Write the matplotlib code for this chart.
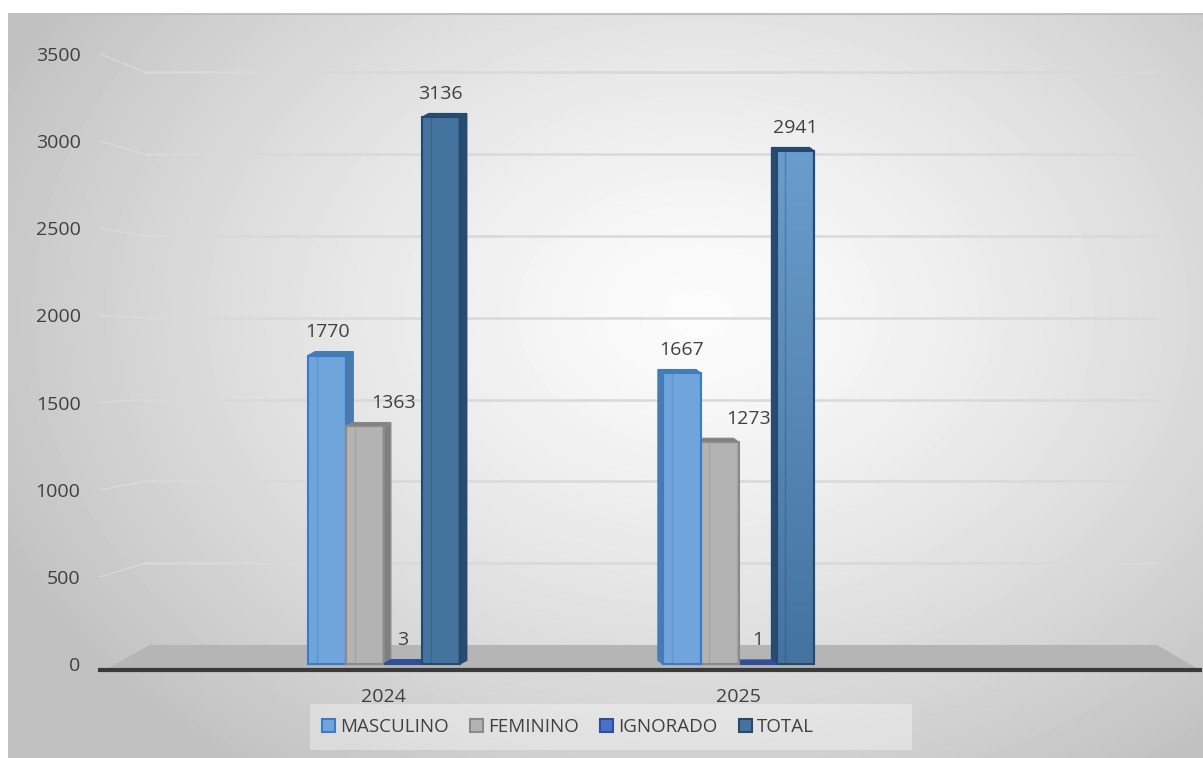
import numpy as np
import matplotlib.pyplot as plt
from matplotlib.patches import Patch, Polygon, Rectangle
import matplotlib.transforms as mtransforms
from matplotlib.colors import LinearSegmentedColormap

plt.rcParams['font.family'] = ['Open Sans', 'DejaVu Sans']

# data
years = ['2024', '2025']
series = ['MASCULINO', 'FEMININO', 'IGNORADO', 'TOTAL']
masculino = [1770, 1667]
feminino = [1363, 1273]
ignorado = [3, 1]
total = [3136, 2941]
values = [masculino, feminino, ignorado, total]

front_cols = ['#6fa5db', '#b3b3b3', '#4a72c4', '#44739f']
edge_cols = ['#3d7cc4', '#8a8a8a', '#2f4f9a', '#244a70']
side_cols = ['#4d7aa8', '#7f7f7f', '#2f4f9a', '#2a4c70']

W, H = 1203, 758
fig = plt.figure(figsize=(W / 100, H / 100), dpi=100)

# radial grey background
bg = fig.add_axes([8 / W, 0, 1 - 8 / W, 1 - 13 / H], zorder=-10)
yy, xx = np.mgrid[0:745, 0:1195]
d = np.sqrt(((xx - 690) / 760) ** 2 + ((yy - 300) / 560) ** 2)
shade = 252 - 58 * np.clip(d, 0, 1) ** 1.3
bg.imshow(shade, cmap='gray', vmin=0, vmax=255, aspect='auto', interpolation='bilinear')
bg.axhline(0, color='#c0c0c0', lw=1.5)
bg.axis('off')

ax = fig.add_axes([100 / W, 88 / H, 1100 / W, 650 / H])
ax.set_facecolor('none')
ax.set_xlim(-0.8, 2.3)
ax.set_ylim(-34, 3695)

ticks = np.arange(0, 3501, 500)
ax.set_yticks(ticks)
ax.set_yticklabels([str(t) for t in ticks])

# back wall gridlines (3D look)
for t in ticks[1:]:
    yb = 0.939 * t + 109
    ax.plot([0.0, 0.041], [t, yb], transform=ax.get_yaxis_transform(),
            color='#dedede', lw=1.0, alpha=0.7, zorder=0, clip_on=False)
    ax.plot([0.041, 0.961], [yb, yb], transform=ax.get_yaxis_transform(),
            color='#d9d9d9', lw=1.8, zorder=0)

# floor
floor = Polygon([[0.005, 0], [1.0, 0], [0.961, 0.0385], [0.045, 0.0385]],
                closed=True, transform=ax.transAxes, facecolor='#b5b5b5',
                edgecolor='none', zorder=1)
ax.add_patch(floor)

x = np.arange(len(years))
width = 0.107
offsets = [-0.16, -0.054, 0.054, 0.16]
depth_dx = [0.02, -0.014]   # side face visible right for 2024, left for 2025
depth_dy = 22
total_2025_grad = LinearSegmentedColormap.from_list('tg', ['#44739f', '#6a9dcd'])

for i, vals in enumerate(values):
    for j, v in enumerate(vals):
        xc = x[j] + offsets[i]
        xl, xr = xc - width / 2, xc + width / 2
        dx = depth_dx[j]
        z = 3 + i if j == 0 else 10 - i
        edge_x = xr if dx > 0 else xl
        side = Polygon([[edge_x, 0], [edge_x, v], [edge_x + dx, v + depth_dy],
                        [edge_x + dx, depth_dy]], closed=True,
                       facecolor=side_cols[i], edgecolor=edge_cols[i], lw=1, zorder=z)
        top = Polygon([[xl, v], [xr, v], [xr + dx, v + depth_dy], [xl + dx, v + depth_dy]],
                      closed=True, facecolor=side_cols[i], edgecolor=edge_cols[i],
                      lw=1, zorder=z)
        ax.add_patch(side)
        ax.add_patch(top)
        bars = ax.bar(xc, v, width, color=front_cols[i], edgecolor=edge_cols[i],
                      linewidth=1.5, zorder=z + 0.5)
        if i == 3 and j == 1:
            grad = np.linspace(0, 1, 256).reshape(-1, 1)
            im = ax.imshow(grad, cmap=total_2025_grad, origin='lower', aspect='auto',
                           extent=[xl, xr, 0, v], zorder=z + 0.55)
            im.set_clip_path(bars[0])
            ax.bar(xc, v, width, color='none', edgecolor=edge_cols[i],
                   linewidth=1.5, zorder=z + 0.6)
        # bevel lines inside the front face
        if v > 200:
            ax.plot([xl + 0.025, xl + 0.025], [0, v], color=edge_cols[i], alpha=0.35,
                    lw=1, zorder=z + 0.7)
            ax.plot([xr - 0.004, xr - 0.004], [0, v], color=edge_cols[i], alpha=0.35,
                    lw=1, zorder=z + 0.7)
        lab_dx = 21 if i == 1 else 0
        ax.annotate(str(v), (xc, v), xytext=(lab_dx, 17), textcoords='offset points',
                    ha='center', va='center', fontsize=14, color='#404040', zorder=20)

ax.set_xlim(-0.8, 2.3)
ax.set_ylim(-34, 3695)
ax.set_xticks(x)
ax.set_xticklabels(years)
for lab in ax.get_xticklabels():
    lab.set_transform(lab.get_transform() +
                      mtransforms.ScaledTranslation(-11 / 100, 0, fig.dpi_scale_trans))

ax.tick_params(axis='y', length=0, pad=14, labelsize=14, labelcolor='#404040')
ax.tick_params(axis='x', length=0, pad=13, labelsize=14, labelcolor='#404040')
for s in ['top', 'right', 'left']:
    ax.spines[s].set_visible(False)
ax.spines['bottom'].set_color('#3a3a3a')
ax.spines['bottom'].set_linewidth(3)
ax.spines['bottom'].set_zorder(2)

# legend box (wider than its content, as in the original)
fig.patches.append(Rectangle((310 / W, 1 - 750 / H), 602 / W, 46 / H,
                             transform=fig.transFigure, facecolor='white',
                             alpha=0.35, edgecolor='none', zorder=0))
handles = [Patch(facecolor=front_cols[i], edgecolor=edge_cols[i], lw=1.5)
           for i in range(len(series))]
leg = fig.legend(handles, series, loc='center', bbox_to_anchor=(568 / W, 1 - 727 / H),
                 ncol=4, frameon=False, fontsize=13.5, handlelength=0.7, handleheight=0.7,
                 handletextpad=0.25, columnspacing=1.15, labelcolor='#404040')

fig.savefig('out.png', dpi=100)
